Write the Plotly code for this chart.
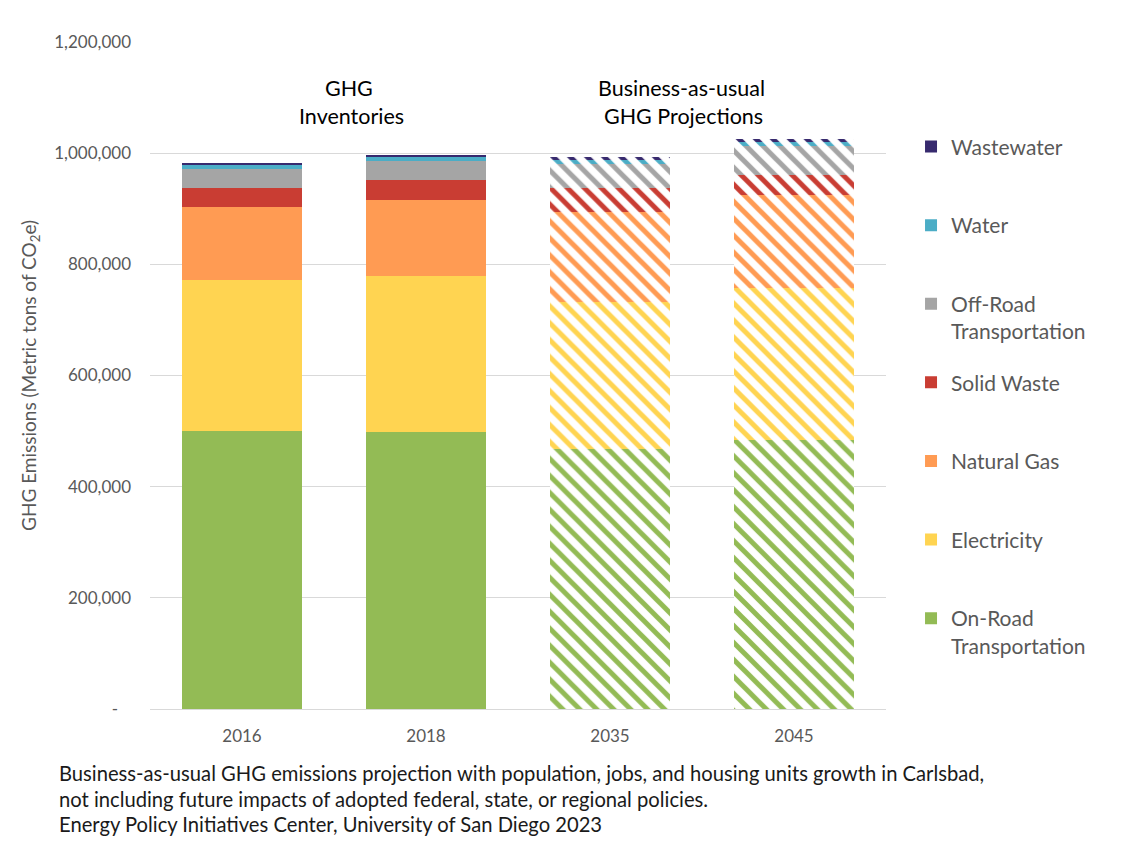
import plotly.graph_objects as go

categories = ["2016", "2018", "2035", "2045"]
on_road = [500100, 498300, 467700, 484000]
electricity = [271700, 281200, 265000, 272800]
natural_gas = [131300, 136700, 161900, 167900]
solid_waste = [35000, 35500, 42700, 36000]
off_road = [33000, 34200, 43200, 53000]
water = [7000, 6600, 8100, 7200]
wastewater = [4000, 4100, 3900, 4000]
pattern_shapes = ["", "", "\\", "\\"]

series = [
    ("On-Road<br>Transportation", on_road, "#93BB55"),
    ("Electricity", electricity, "#FFD451"),
    ("Natural Gas", natural_gas, "#FF9B53"),
    ("Solid Waste", solid_waste, "#C93D33"),
    ("Off-Road<br>Transportation", off_road, "#A5A5A5"),
    ("Water", water, "#4BADC6"),
    ("Wastewater", wastewater, "#372A6E"),
]

y_ticks = [0, 200000, 400000, 600000, 800000, 1000000, 1200000]
y_ticktext = ["-&nbsp;&nbsp;&nbsp;", "200,000", "400,000", "600,000", "800,000", "1,000,000", "1,200,000"]

FONT = "Lato"
GREY = "#595959"

fig = go.Figure()
for i, (name, vals, col) in enumerate(series):
    label = name if "<br>" in name else name + "<br>&nbsp;"
    fig.add_trace(go.Bar(
        x=categories, y=vals, name=label, legendgroup=str(i), legendrank=1000 - i,
        marker=dict(color=col, line=dict(width=0),
                    pattern=dict(shape=pattern_shapes, fgcolor=col, bgcolor="white",
                                 size=12, solidity=0.42, fillmode="replace")),
    ))

fig.update_layout(
    barmode="stack",
    bargap=0.353,
    width=1127, height=841,
    margin=dict(l=150, r=241, t=42, b=132),
    paper_bgcolor="white", plot_bgcolor="white",
    font=dict(family=FONT, color=GREY),
    legend=dict(
        x=1.034, xanchor="left", y=0.8735, yanchor="top",
        traceorder="grouped", tracegroupgap=21, valign="top",
        font=dict(family=FONT, size=21, color=GREY),
        itemwidth=30,
    ),
    xaxis=dict(
        showgrid=False, showline=True, linecolor="#D9D9D9", linewidth=1,
        ticks="", tickfont=dict(family=FONT, size=17, color=GREY),
        ticklabelstandoff=12,
    ),
    yaxis=dict(
        range=[0, 1200000], tickvals=y_ticks, ticktext=y_ticktext,
        showgrid=True, gridcolor="#D9D9D9", gridwidth=1, zeroline=False,
        ticks="", tickfont=dict(family=FONT, size=17, color=GREY),
        ticklabelstandoff=18,
    ),
)

def px_x(px):
    return (px - 150) / 736

def px_y(py):
    return (709 - py) / 667

annots = [
    ("GHG", px_x(349), px_y(88)),
    ("Inventories", px_x(351), px_y(116)),
    ("Business-as-usual", px_x(681), px_y(88)),
    ("GHG Projections", px_x(683), px_y(116)),
]
for t, x, y in annots:
    fig.add_annotation(text=t, x=x, y=y, xref="paper", yref="paper", xanchor="center",
                       yanchor="middle", showarrow=False,
                       font=dict(family=FONT, size=21.5, color="#000000"))

foot = [
    "Business-as-usual GHG emissions projection with population, jobs, and housing units growth in Carlsbad,",
    "not including future impacts of adopted federal, state, or regional policies.",
    "Energy Policy Initiatives Center, University of San Diego 2023",
]
for k, t in enumerate(foot):
    fig.add_annotation(text=t, x=px_x(57), y=px_y(773 + 25.5 * k), xref="paper", yref="paper",
                       xanchor="left", yanchor="middle", showarrow=False,
                       font=dict(family=FONT, size=20.2, color="#1a1a1a"))

fig.add_annotation(text="GHG Emissions (Metric tons of CO<sub>2</sub>e)", textangle=-90,
                   x=px_x(30), y=px_y(376), xref="paper", yref="paper",
                   xanchor="center", yanchor="middle", showarrow=False,
                   font=dict(family=FONT, size=19, color=GREY))

fig.write_html("out.html")
